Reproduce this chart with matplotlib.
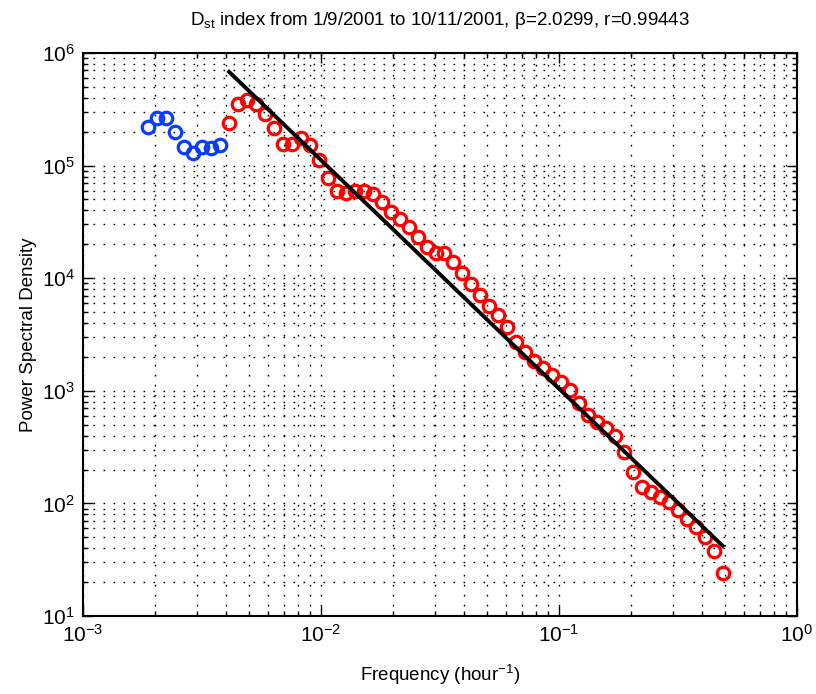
import math
import matplotlib
matplotlib.use("Agg")
import matplotlib.pyplot as plt
from matplotlib.ticker import LogLocator, FuncFormatter, NullFormatter

# log-binned power spectrum of the Dst index
freq_low = [1.881e-3, 2.051e-3, 2.237e-3, 2.440e-3, 2.661e-3, 2.903e-3,
            3.166e-3, 3.453e-3, 3.767e-3]
psd_low = [2.19e5, 2.63e5, 2.63e5, 2.00e5, 1.45e5, 1.285e5, 1.45e5, 1.425e5, 1.52e5]

freq_fit = [4.108e-3, 4.482e-3, 4.888e-3, 5.332e-3, 5.816e-3, 6.343e-3, 6.918e-3,
            7.546e-3, 8.230e-3, 8.977e-3, 9.791e-3, 1.068e-2, 1.165e-2, 1.271e-2,
            1.386e-2, 1.512e-2, 1.649e-2, 1.798e-2, 1.961e-2, 2.139e-2, 2.333e-2,
            2.545e-2, 2.776e-2, 3.028e-2, 3.302e-2, 3.602e-2, 3.929e-2, 4.285e-2,
            4.674e-2, 5.098e-2, 5.559e-2, 6.065e-2, 6.614e-2, 7.215e-2, 7.869e-2,
            8.583e-2, 9.361e-2, 0.1021, 0.1114, 0.1215, 0.1325, 0.1445, 0.1576,
            0.1719, 0.1875, 0.2045, 0.2230, 0.2432, 0.2653, 0.2893, 0.3156,
            0.3443, 0.3755, 0.4096, 0.4467, 0.4873]
psd_fit = [2.38e5, 3.49e5, 3.85e5, 3.55e5, 2.89e5, 2.14e5, 1.54e5, 1.55e5, 1.75e5,
           1.51e5, 1.11e5, 7.84e4, 5.95e4, 5.68e4, 5.95e4, 5.95e4, 5.54e4, 4.75e4,
           3.90e4, 3.36e4, 2.85e4, 2.34e4, 1.90e4, 1.66e4, 1.66e4, 1.40e4, 1.12e4,
           8.88e3, 7.09e3, 5.66e3, 4.71e3, 3.71e3, 2.73e3, 2.19e3, 1.84e3, 1.58e3,
           1.37e3, 1.20e3, 1.02e3, 774, 610, 528, 465, 394, 286, 191, 141, 125,
           115, 102, 87.4, 73.4, 61.7, 50.3, 37.6, 24.2]

beta = 2.0299
amp = 9.75  # PSD = amp * f^-beta
r_coef = 0.99443

plt.rcParams['font.family'] = ['Liberation Sans', 'DejaVu Sans']
plt.rcParams['mathtext.fontset'] = 'custom'
plt.rcParams['mathtext.rm'] = 'Liberation Sans'
plt.rcParams['mathtext.it'] = 'Liberation Sans:italic'
plt.rcParams['mathtext.bf'] = 'Liberation Sans:bold'

fig = plt.figure(figsize=(8.16, 6.94), dpi=100)
ax = fig.add_axes([83 / 816, 78 / 694, 714 / 816, 563 / 694])

ax.loglog(freq_low, psd_low, 'o', mfc='none', mec='#0a3cff', ms=9, mew=2.3)
ax.loglog(freq_fit, psd_fit, 'o', mfc='none', mec='#ff0000', ms=9, mew=2.3)

# power-law fit line over the red range
f0, f1 = freq_fit[0], freq_fit[-1]
ax.loglog([f0, f1], [amp * f0 ** -beta, amp * f1 ** -beta], '-', color='black', lw=2.8)

ax.set_xlim(1e-3, 1)
ax.set_ylim(1e1, 1e6)

ax.xaxis.set_major_locator(LogLocator(base=10, numticks=10))
ax.yaxis.set_major_locator(LogLocator(base=10, numticks=10))
ax.xaxis.set_minor_locator(LogLocator(base=10, subs=range(2, 10), numticks=20))
ax.yaxis.set_minor_locator(LogLocator(base=10, subs=range(2, 10), numticks=20))
fmt = FuncFormatter(lambda v, p: r'$10^{%d}$' % round(math.log10(v)))
ax.xaxis.set_major_formatter(fmt)
ax.yaxis.set_major_formatter(fmt)
ax.xaxis.set_minor_formatter(NullFormatter())
ax.yaxis.set_minor_formatter(NullFormatter())

ax.grid(True, which='both', color='black', linestyle=(0, (1.2, 6)), lw=1.0)
ax.tick_params(which='both', direction='in', top=True, right=True, labelsize=15, width=1.0)
ax.tick_params(which='major', length=7, pad=6)
ax.tick_params(which='minor', length=3.5)
for s in ax.spines.values():
    s.set_linewidth(1.5)

ax.set_xlabel(r'Frequency (hour$^{-1}$)', fontsize=13.5, labelpad=12)
ax.set_ylabel('Power Spectral Density', fontsize=13.5, labelpad=3)
ax.set_title(r'D$_{\mathrm{st}}$ index from 1/9/2001 to 10/11/2001, β=%.4f, r=%.5f' % (beta, r_coef),
             fontsize=13.5, pad=20)

plt.savefig("out.png", dpi=100)
